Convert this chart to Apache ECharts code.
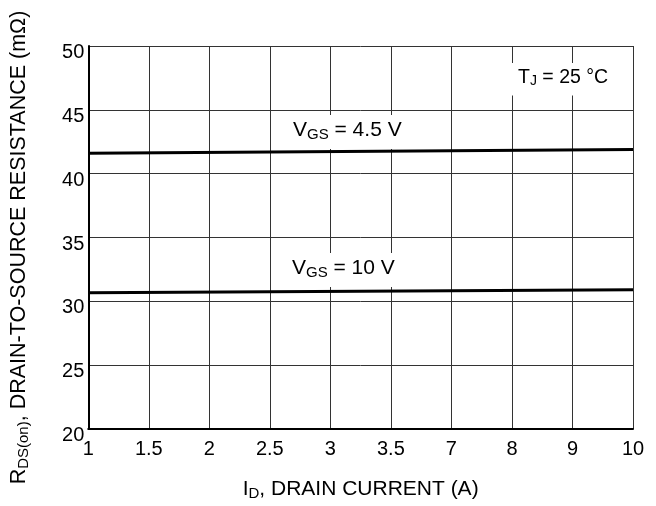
<!DOCTYPE html>
<html><head><meta charset="utf-8">
<script src="https://cdn.jsdelivr.net/npm/echarts@6/dist/echarts.min.js"></script>
<style>html,body{margin:0;padding:0;background:#fff}#c{width:656px;height:506px}</style>
</head><body><div id="c"></div>
<script>
const xTickLabels = ['1','1.5','2','2.5','3','3.5','7','8','9','10'];
const yTicks = [20, 25, 30, 35, 40, 45, 50];
// series: [category index, R (mΩ)]
const vgs45 = [[0, 41.6], [9, 41.9]];
const vgs10 = [[0, 30.67], [9, 30.9]];

const F = 'Liberation Sans, Arial, Helvetica, sans-serif';
const chart = echarts.init(document.getElementById('c'), null, {renderer: 'canvas'});
function rich(size, sub, pad) {
  return {
    n: {fontFamily: F, fontSize: size, color: '#000', lineHeight: size + 4},
    s: {fontFamily: F, fontSize: sub, color: '#000', padding: [pad, 0, 0, 0], lineHeight: size + 4}
  };
}
chart.setOption({
  animation: false,
  backgroundColor: '#fff',
  grid: {left: 88, right: 23, top: 46, bottom: 70},
  xAxis: {
    type: 'value', min: 0, max: 9, interval: 1,
    axisLine: {show: true, onZero: false, lineStyle: {color: '#000', width: 2}},
    axisTick: {show: false},
    splitLine: {show: true, lineStyle: {color: '#333', width: 1}},
    axisLabel: {fontFamily: F, fontSize: 20, color: '#000', margin: 10,
      formatter: v => xTickLabels[v] ?? ''},
    name: '{n|I}{s|D}{n|, DRAIN CURRENT (A)}',
    nameLocation: 'middle', nameGap: 48,
    nameTextStyle: {rich: rich(21, 15, 8)}
  },
  yAxis: {
    type: 'value', min: yTicks[0], max: yTicks[yTicks.length - 1], interval: 5,
    axisLine: {show: true, onZero: false, lineStyle: {color: '#000', width: 2}},
    axisTick: {show: false},
    splitLine: {show: true, lineStyle: {color: '#333', width: 1}},
    axisLabel: {fontFamily: F, fontSize: 20, color: '#000', margin: 4,
      verticalAlign: 'top', lineHeight: 13},
    name: '{n|R}{s|DS(on)}{n|, DRAIN-TO-SOURCE RESISTANCE (mΩ)}',
    nameLocation: 'middle', nameGap: 56, nameRotate: 90,
    nameTextStyle: {rich: rich(21.5, 15, 8), padding: [0, 20, 0, 0]}
  },
  series: [
    {type: 'line', data: vgs45, showSymbol: false, lineStyle: {color: '#000', width: 3}},
    {type: 'line', data: vgs10, showSymbol: false, lineStyle: {color: '#000', width: 3}}
  ],
  graphic: [
    {type: 'text', left: 273, top: 115, z: 100, style: {
      text: '{n|V}{s|GS}{n| = 4.5 V}', backgroundColor: '#fff', padding: [3, 36, 6, 20],
      rich: rich(21, 15, 8)}},
    {type: 'text', left: 272, top: 253, z: 100, style: {
      text: '{n|V}{s|GS}{n| = 10 V}', backgroundColor: '#fff', padding: [3, 44, 6, 20],
      rich: rich(21, 15, 8)}},
    {type: 'text', left: 512, top: 63, z: 100, style: {
      text: '{n|T}{s|J}{n| = 25 °C}', backgroundColor: '#fff', padding: [3, 6, 6, 6],
      rich: rich(19.5, 14, 7)}}
  ]
});
</script></body></html>
